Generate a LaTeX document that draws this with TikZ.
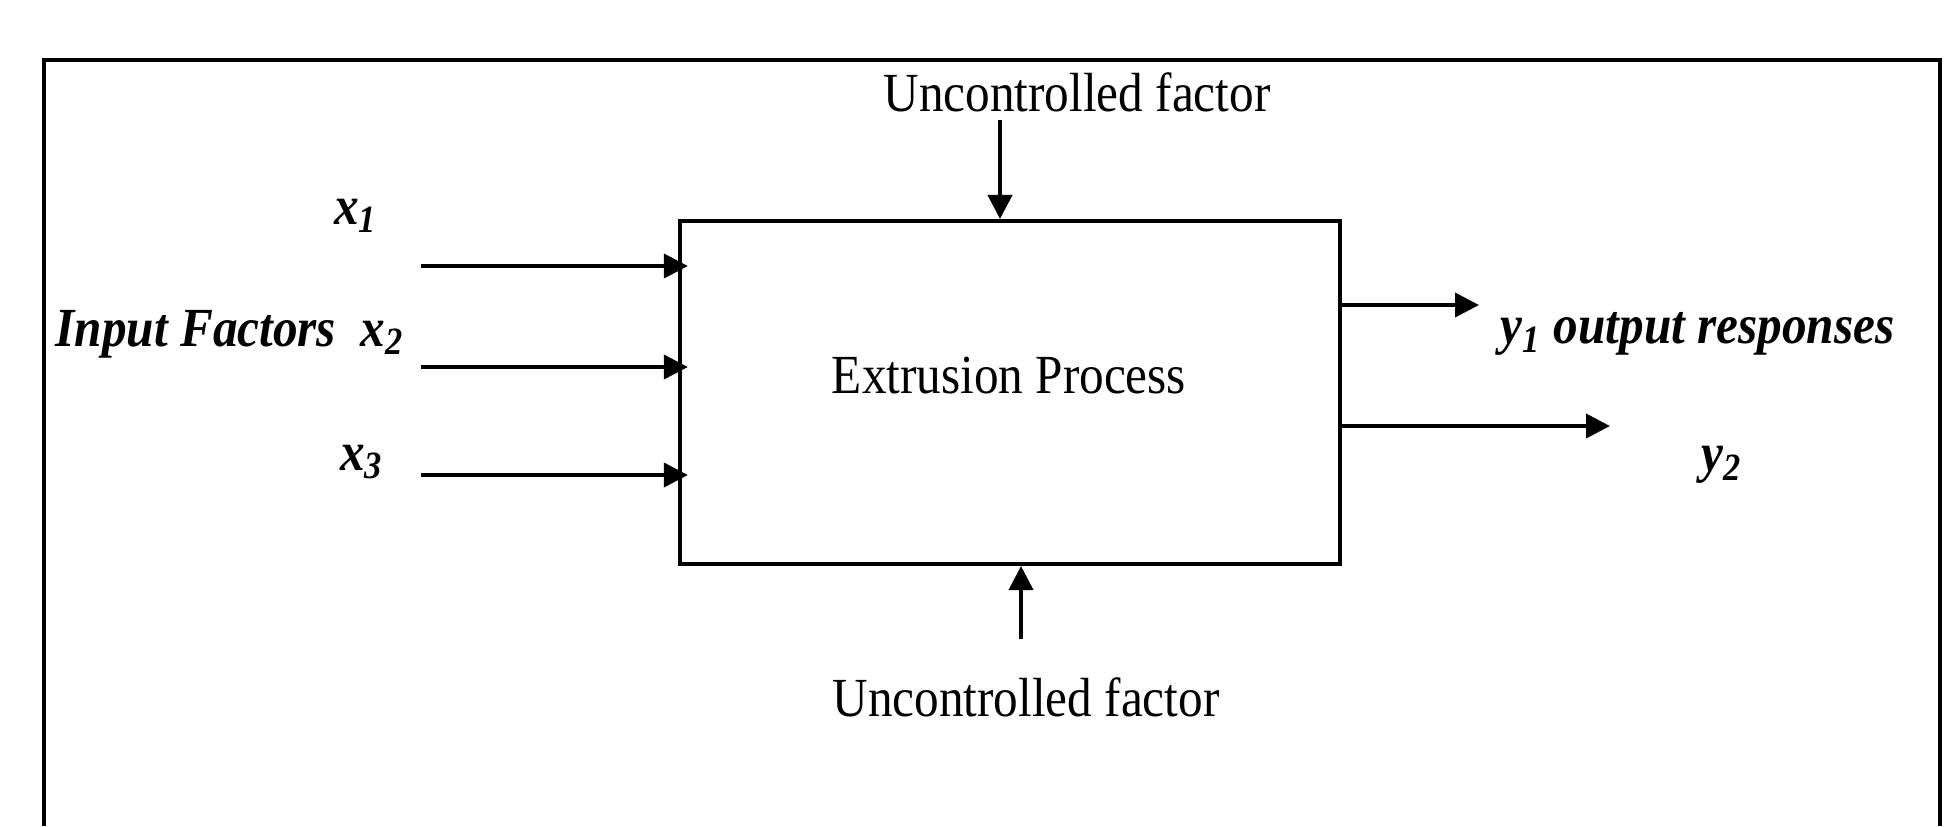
\documentclass[tikz,border=0pt]{standalone}
\usepackage{fontspec}
\setmainfont{Liberation Serif}
\usetikzlibrary{arrows.meta}
\tikzset{
  arr/.style={-{Triangle[length=2.4mm,width=2.4mm]}, line width=1.1pt},
  lbl/.style={font=\fontsize{14}{16}\selectfont, inner sep=0pt, yscale=1.12, transform shape},
  var/.style={font=\fontsize{14}{16}\selectfont\bfseries\itshape, inner sep=0pt, yscale=1.12, transform shape},
}
\begin{document}
\begin{tikzpicture}[x=0.01cm,y=-0.01cm]
   \useasboundingbox (0,0) rectangle (1960,826);
   % outer frame, open at the bottom edge of the page
   \draw[line width=1.1pt] (44,826) -- (44,60) -- (1940,60) -- (1940,826);
   % process box
   \node[draw, line width=1.1pt, minimum width=6.6cm, minimum height=3.43cm, inner sep=0pt] (proc) at (1010,392.5) {};
   \node[lbl] (proclbl) at (1009,375) {Extrusion Process};
   % uncontrolled factors
   \node[lbl] (topfac) at (1077,92) {Uncontrolled factor};
   \node[lbl] (botfac) at (1026,697) {Uncontrolled factor};
   \coordinate (topin) at (1000,120);
   \coordinate (botin) at (1021,639);
   \draw[arr] (topin) -- (topin |- proc.north);
   \draw[arr] (botin) -- (botin |- proc.south);
   % inputs
   \node[var] (xa) at (356,216) {x\textsubscript{1}};
   \node[var, anchor=west] (xb) at (55,334) {Input Factors\ \ x\textsubscript{2}};
   \node[var] (xc) at (362,462) {x\textsubscript{3}};
   \coordinate (ina) at (421,266);
   \coordinate (inb) at (421,367);
   \coordinate (inc) at (421,475);
   \draw[arr,shorten >=-1mm] (ina) -- (ina -| proc.west);
   \draw[arr,shorten >=-1mm] (inb) -- (inb -| proc.west);
   \draw[arr,shorten >=-1mm] (inc) -- (inc -| proc.west);
   % outputs
   \node[var, anchor=west] (ya) at (1500,334) {y\textsubscript{1} output responses};
   \node[var] (yb) at (1722,465) {y\textsubscript{2}};
   \coordinate (outa) at (1479,305);
   \coordinate (outb) at (1610,426);
   \draw[arr] (outa -| proc.east) -- (outa);
   \draw[arr] (outb -| proc.east) -- (outb);
\end{tikzpicture}
\end{document}
